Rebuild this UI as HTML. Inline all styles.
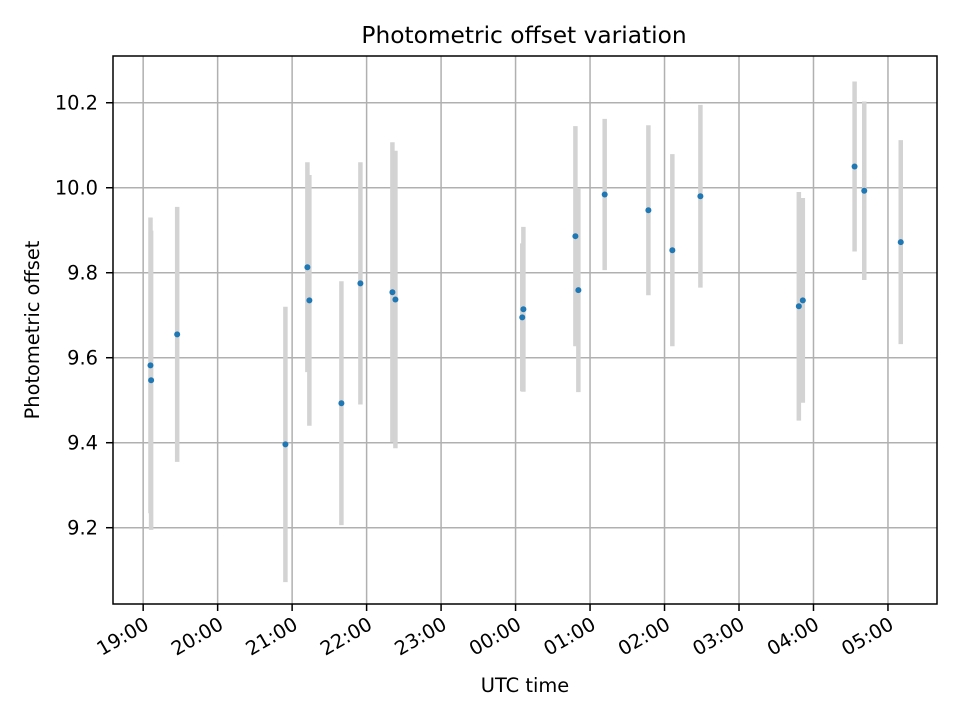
<!DOCTYPE html>
<html><head><meta charset="utf-8"><style>
html,body{margin:0;padding:0;background:#fff;}
svg{display:block;font-family:"DejaVu Sans","Liberation Sans",sans-serif;}
</style></head><body>
<svg id="chart" width="960" height="720" viewBox="0 0 960 720" xmlns="http://www.w3.org/2000/svg">
<rect x="0" y="0" width="960" height="720" fill="#fff"/>
<g id="grid"></g>
<g id="errs"></g>
<g id="pts"></g>
<rect x="113" y="56" width="824" height="548" fill="none" stroke="#000" stroke-width="1.5"/>
<g id="ticks"></g>
<text x="524" y="43" text-anchor="middle" font-size="23.3" fill="#000">Photometric offset variation</text>
<text x="525" y="692" text-anchor="middle" font-size="19.4" fill="#000">UTC time</text>
<text x="39" y="330" text-anchor="middle" font-size="19.4" fill="#000" transform="rotate(-90 39 330)">Photometric offset</text>
</svg>
<script>
const times = ["19:05.9","19:06.4","19:27.4","20:54.6","21:12.3","21:13.9","21:39.7","21:55.0","22:20.8","22:23.2","00:05.4","00:06.3","00:48.2","00:50.6","01:11.8","01:47.0","02:06.3","02:28.9","03:48.2","03:51.4","04:33.1","04:40.9","05:10.3"];
const offsets = [9.582,9.547,9.655,9.396,9.813,9.735,9.493,9.775,9.754,9.737,9.695,9.714,9.886,9.759,9.984,9.947,9.853,9.980,9.721,9.735,10.050,9.993,9.872];
const errors = [0.348,0.352,0.300,0.324,0.247,0.295,0.287,0.285,0.353,0.350,0.174,0.194,0.259,0.240,0.178,0.200,0.226,0.215,0.269,0.241,0.200,0.210,0.240];
const xTickLabels = ["19:00","20:00","21:00","22:00","23:00","00:00","01:00","02:00","03:00","04:00","05:00"];
const yTickLabels = ["9.2","9.4","9.6","9.8","10.0","10.2"];

const NS="http://www.w3.org/2000/svg";
const L=113,R=937,T=56,B=604;
const xMin=-24.3,xMax=639.5,yMin=9.0205,yMax=10.31;
function toMin(s){const [h,m]=s.split(":");let hh=+h;if(hh<12)hh+=24;return (hh-19)*60+parseFloat(m);}
function X(min){return L+(min-xMin)/(xMax-xMin)*(R-L);}
function Y(v){return B-(v-yMin)/(yMax-yMin)*(B-T);}
function mk(tag,attrs,parent){const e=document.createElementNS(NS,tag);for(const k in attrs)e.setAttribute(k,attrs[k]);parent.appendChild(e);return e;}
const grid=document.getElementById('grid'),ticks=document.getElementById('ticks'),errs=document.getElementById('errs'),pts=document.getElementById('pts');

xTickLabels.forEach(lab=>{
  const x=X(toMin(lab));
  const g=mk('line',{x1:x,x2:x,y1:T,y2:B,stroke:'#b0b0b0','stroke-width':1.5},grid);
  
  
  const t=mk('line',{x1:x,x2:x,y1:B,y2:B+7,stroke:'#000','stroke-width':1.5},ticks);
  
  
  const ay=B+12;
  const tx=mk('text',{x:x,y:ay+14,'font-size':19.4,'text-anchor':'end',transform:`rotate(-30 ${x} ${ay})`},ticks);
  tx.textContent=lab;
  
  
});
yTickLabels.forEach(lab=>{
  const y=Y(parseFloat(lab));
  const g=mk('line',{x1:L,x2:R,y1:y,y2:y,stroke:'#b0b0b0','stroke-width':1.5},grid);
  
  
  const t=mk('line',{x1:L-7,x2:L,y1:y,y2:y,stroke:'#000','stroke-width':1.5},ticks);
  
  
  const tx=mk('text',{x:L-15,y:y+7,'font-size':19.4,'text-anchor':'end'},ticks);
  tx.textContent=lab;
  
  
});
times.forEach((s,i)=>{
  const x=X(toMin(s));
  const e=mk('line',{x1:x,x2:x,y1:Y(offsets[i]+errors[i]),y2:Y(offsets[i]-errors[i]),stroke:'#d3d3d3','stroke-width':4.5},errs);
  
  
  const c=mk('circle',{cx:x,cy:Y(offsets[i]),r:3,fill:'#1f77b4'},pts);
  
  
});
</script>
</body></html>
